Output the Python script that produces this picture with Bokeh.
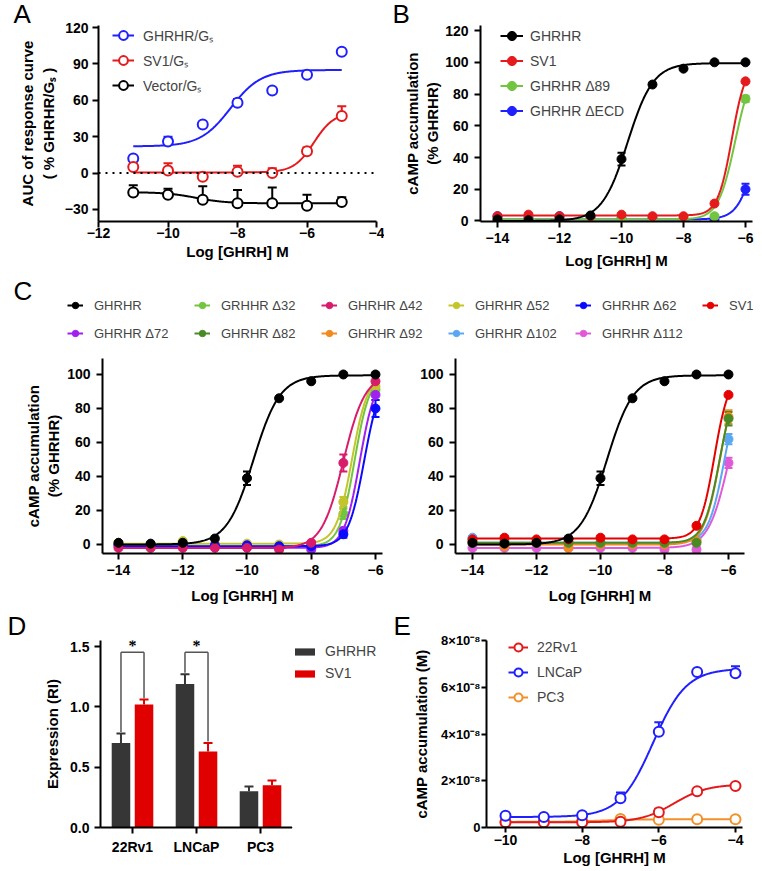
import numpy as np
from bokeh.plotting import figure
from bokeh.models import (ColumnDataSource, Range1d, FixedTicker, Legend, LegendItem,
                          Label, LabelSet, Span, Whisker, TeeHead, FactorRange, Title)
from bokeh.layouts import row, column
from bokeh.transform import dodge
from bokeh.embed import file_html
from bokeh.resources import INLINE

FONT = "Liberation Sans"

# ---------------- Panel A ----------------
a_x = [-11, -10, -9, -8, -7, -6, -5]
a_ghrhr = [12, 26, 40, 58, 68, 81, 100]
a_ghrhr_err = [0, 4, 0, 3, 0, 0, 0]
a_sv1 = [5, 2, -3, 1, 0, 18, 47]
a_sv1_err = [5, 6, 3, 5, 4, 3, 8]
a_vector = [-16, -18, -22, -25, -25, -27, -24]
a_vector_err = [6, 5, 11, 11, 13, 9, 4]
# 4PL fit parameters: bottom, top, logEC50, hill
a_ghrhr_fit = (22, 85, -8.2, 1.0)
a_sv1_fit = (0.5, 50, -5.8, 1.5)
a_vector_fit = (-15.8, -25, -9.2, 1.0)
a_xticks = [-12, -10, -8, -6, -4]
a_yticks = [-30, 0, 30, 60, 90, 120]

# ---------------- Panel B / C ----------------
c_x = [-14, -13, -12, -11, -10, -9, -8, -7, -6]
ghrhr = [1, 0.5, 1, 3.5, 39, 86, 96, 100, 100]
ghrhr_err = [0, 0, 0, 0, 4, 0, 0, 0, 0]
ghrhr_fit = (0, 99.5, -9.8, 1.05)
sv1 = [3, 4, 3, 3, 4, 3, 3, 11, 88]
sv1_err = [0, 0, 0, 0, 0, 0, 0, 0, 0]
sv1_fit = (3.5, 100, -6.44, 1.92)
d89 = [1, 1, 1, 1, 1, 0.5, 1, 3, 77]
d89_err = [0, 0, 0, 0, 0, 0, 0, 1, 2]
d89_fit = (1, 100, -6.33, 1.58)
decd = [3, 2, 3, 2, 1.5, 1.5, 1, 1, 20]
decd_err = [0, 0, 0, 0, 0, 0, 0, 0, 3.5]
decd_fit = (1, 100, -5.59, 1.5)

d32 = [0, -2, -1, -1, -0.5, -2, -2, 18, 91]
d32_err = [0, 0, 0, 0, 0, 0, 0, 3, 2]
d32_fit = (-1, 100, -6.65, 1.84)
d42 = [-2, -2, -2, -2, -2, -3, 1, 48, 96]
d42_err = [0, 0, 0, 0, 0, 0, 1, 5, 3]
d42_fit = (-2, 100, -7.0, 1.29)
d52 = [1, 0, 2, 0.5, 0.5, 0, 0, 25, 93]
d52_err = [0, 0, 0, 0, 0, 0, 0, 3, 2]
d52_fit = (0.5, 100, -6.73, 1.77)
d62 = [0, 0, 0, -0.5, -0.5, -1, -1, 6, 80]
d62_err = [0, 0, 0, 0, 0, 0, 0, 2, 5]
d62_fit = (-1, 100, -6.35, 1.73)
d72 = [-1, -1, -1, -1, -1, -2, -3, 8, 88]
d72_err = [0, 0, 0, 0, 0, 0, 0, 2, 3]
d72_fit = (-2, 100, -6.49, 1.79)
d82 = [1, 1, 1, 1, 1, 1, 1, 1, 74]
d82_err = [0, 0, 0, 0, 0, 0, 0, 1, 4]
d82_fit = (1, 100, -6.27, 1.74)
d92 = [2, -1, 1, -2, 0, 0, 0, 2, 75]
d92_err = [0, 0, 0, 0, 0, 0, 0, 1, 4]
d92_fit = (0, 100, -6.27, 1.76)
d102 = [4, 2, 1, 1, 1, 1, 1, 3, 62]
d102_err = [0, 0, 0, 0, 0, 0, 0, 1, 3]
d102_fit = (1, 100, -6.12, 1.71)
d112 = [-2, -2, -2, -2, -2, -2, -3, -3, 48]
d112_err = [0, 0, 0, 0, 0, 0, 0, 1.5, 3]
d112_fit = (-2, 100, -5.99, 1.37)
bc_xticks = [-14, -12, -10, -8, -6]
b_yticks = [0, 20, 40, 60, 80, 100, 120]
c_yticks = [0, 20, 40, 60, 80, 100]

# ---------------- Panel D ----------------
d_cats = ["22Rv1", "LNCaP", "PC3"]
d_ghrhr = [0.70, 1.19, 0.30]
d_ghrhr_err = [0.08, 0.08, 0.04]
d_sv1 = [1.02, 0.63, 0.35]
d_sv1_err = [0.04, 0.07, 0.04]
d_sig_cats = ["22Rv1", "LNCaP"]
d_sig_text = ["*", "*"]
d_bracket_top = 1.452
d_yticks = [0, 0.5, 1.0, 1.5]

# ---------------- Panel E ----------------
e_x = [-10, -9, -8, -7, -6, -5, -4]
e_22rv1 = [2.2e-9, 2.2e-9, 2.2e-9, 2.5e-9, 6.5e-9, 1.55e-8, 1.78e-8]
e_22rv1_err = [0, 0, 0, 0, 1.5e-9, 0, 0]
e_22rv1_fit = (2.2e-9, 1.85e-8, -5.6, 1.0)
e_lncap = [5.0e-9, 4.5e-9, 5.2e-9, 1.25e-8, 4.1e-8, 6.65e-8, 6.6e-8]
e_lncap_err = [0, 0, 0, 2.5e-9, 4e-9, 0, 3e-9]
e_lncap_fit = (4.5e-9, 6.8e-8, -6.15, 1.0)
e_pc3 = [2.4e-9, 2.6e-9, 2.8e-9, 3.6e-9, 3.3e-9, 3.5e-9, 3.5e-9]
e_pc3_err = [0, 0, 0, 0, 0, 0, 0]
e_pc3_fit = (2.4e-9, 3.5e-9, -7.5, 1.0)
e_xticks = [-10, -8, -6, -4]
e_yticks = [0, 2e-8, 4e-8, 6e-8, 8e-8]
e_ylabels = {0: "0", 2e-8: "2×10⁻⁸", 4e-8: "4×10⁻⁸", 6e-8: "6×10⁻⁸", 8e-8: "8×10⁻⁸"}

# colours
BLACK = "#000000"
BLUE = "#1f1fff"
RED = "#e41a1c"
GREEN = "#72c53f"
ORANGE = "#f39028"
D_GRAY = "#363636"
D_RED = "#e00000"
BRACKET = "#555555"
C_COLORS = {
    "GHRHR": "#000000", "d32": "#72c53f", "d42": "#d81b6a", "d52": "#c4c42c",
    "d62": "#0a0aff", "SV1": "#e60000", "d72": "#a020f0", "d82": "#4a8a24",
    "d92": "#f28a1e", "d102": "#5aa8f2", "d112": "#e05ad8",
}


def sigmoid(params, x0, x1, n=300):
    b, t, L, h = params
    xs = np.linspace(x0, x1, n)
    return xs, b + (t - b) / (1 + 10 ** ((L - xs) * h))


def make_fig(w, h, bl, bt, br, bb, xr, yr, axes=True):
    kw = {}
    if not axes:
        kw = dict(x_axis_location=None, y_axis_location=None)
    p = figure(width=w, height=h, x_range=xr, y_range=yr, toolbar_location=None,
               output_backend="svg", min_border_left=bl, min_border_top=bt,
               min_border_right=br, min_border_bottom=bb, **kw)
    p.outline_line_color = None
    p.grid.visible = False
    p.background_fill_color = "white"
    p.border_fill_color = "white"
    return p


def style_axes(p, xlabel, ylabel, xticks, yticks, x_std=(5, 6), y_std=(5, 6),
               tick_out=6):
    for ax in p.axis:
        ax.axis_line_width = 2
        ax.axis_line_color = "black"
        ax.major_tick_line_width = 2
        ax.major_tick_line_color = "black"
        ax.major_tick_out = tick_out
        ax.major_tick_in = 0
        ax.minor_tick_line_color = None
        ax.major_label_text_font = FONT
        ax.major_label_text_font_style = "bold"
        ax.major_label_text_font_size = "14px"
        ax.major_label_text_color = "black"
        ax.axis_label_text_font = FONT
        ax.axis_label_text_font_style = "bold"
        ax.axis_label_text_font_size = "15px"
        ax.axis_label_text_color = "black"
    p.xaxis.major_label_standoff = x_std[0]
    p.xaxis.axis_label_standoff = x_std[1]
    p.yaxis.major_label_standoff = y_std[0]
    p.yaxis.axis_label_standoff = y_std[1]
    p.xaxis.axis_label = xlabel
    p.yaxis.axis_label = ylabel
    if xticks is not None:
        p.xaxis.ticker = FixedTicker(ticks=xticks)
    if yticks is not None:
        p.yaxis.ticker = FixedTicker(ticks=yticks)


def panel_title(p, text, offset, standoff=0):
    p.title = Title(text=text, align="left", offset=offset, standoff=standoff,
                    text_font=FONT, text_font_size="26px", text_font_style="normal",
                    text_color="black")


def letter(p, text, x, y):
    p.add_layout(Label(x=x, y=y, x_units="screen", y_units="screen", text=text,
                       text_font=FONT, text_font_size="26px", text_baseline="alphabetic",
                       text_align="left", text_color="black"))


def add_err(p, x, y, err, color, upper_only, cap):
    x = np.asarray(x, float)
    y = np.asarray(y, float)
    e = np.asarray(err, float)
    m = e > 0
    if not m.any():
        return
    src = ColumnDataSource(dict(base=x[m], upper=y[m] + e[m],
                                lower=(y[m] if upper_only else y[m] - e[m])))
    p.add_layout(Whisker(source=src, base="base", upper="upper", lower="lower",
                         line_color=color, line_width=2,
                         upper_head=TeeHead(size=cap, line_color=color, line_width=2),
                         lower_head=None if upper_only else
                         TeeHead(size=cap, line_color=color, line_width=2)))


def add_series(p, x, y, err, fit, x0, x1, color, open_marker, upper_only, size, cap):
    xs, ys = sigmoid(fit, x0, x1)
    rl = p.line(xs, ys, line_color=color, line_width=2)
    add_err(p, x, y, err, color, upper_only, cap)
    if open_marker:
        rs = p.scatter(x, y, marker="circle", size=size, line_color=color, line_width=2,
                       fill_color="white")
    else:
        rs = p.scatter(x, y, marker="circle", size=size, line_color=color, fill_color=color)
    return rl, rs


def make_legend(items, loc, gw, gh, standoff, spacing, font_size="14px",
                orientation="vertical", label_width=20, label_height=None):
    return Legend(items=items, location=loc, orientation=orientation, glyph_width=gw,
                  glyph_height=gh, label_standoff=standoff, spacing=spacing, padding=0,
                  margin=0, border_line_color=None, background_fill_alpha=0,
                  label_text_font=FONT, label_text_font_size=font_size,
                  label_width=label_width, label_height=label_height or gh)


# ================= Panel A =================
pA = make_fig(384, 273, 98, 7, 8, 52, Range1d(-12, -4), Range1d(-40, 121.7))
panel_title(pA, "A", -85, standoff=-7)
style_axes(pA, "Log [GHRH] M", "AUC of response curve\n( % GHRHR/Gₛ )", a_xticks, a_yticks,
           x_std=(0, 2), y_std=(4, 5))
pA.add_layout(Span(location=0, dimension="width", line_color="black", line_width=2,
                   line_dash="2 5"))
ra = []
for y, e, fit, col in [(a_ghrhr, a_ghrhr_err, a_ghrhr_fit, BLUE),
                       (a_sv1, a_sv1_err, a_sv1_fit, RED),
                       (a_vector, a_vector_err, a_vector_fit, BLACK)]:
    ra.append(add_series(pA, a_x, y, e, fit, a_x[0], a_x[-1], col, True, True, 10, 9))
pA.add_layout(make_legend([LegendItem(label="GHRHR/Gₛ", renderers=list(ra[0])),
                           LegendItem(label="SV1/Gₛ", renderers=list(ra[1])),
                           LegendItem(label="Vector/Gₛ", renderers=list(ra[2]))],
                          (14, 124), 22, 24, 9, 1))

# ================= Panel B =================
pB = make_fig(376, 273, 96, 7, 8, 52, Range1d(-14.548, -5.774), Range1d(-0.32, 123.2))
panel_title(pB, "B", -88, standoff=-7)
style_axes(pB, "Log [GHRH] M", "cAMP accumulation\n(% GHRHR)", bc_xticks, b_yticks,
           x_std=(5, 6), y_std=(6, 1))
b_series = [("GHRHR ΔECD", decd, decd_err, decd_fit, BLUE),
            ("GHRHR Δ89", d89, d89_err, d89_fit, GREEN),
            ("SV1", sv1, sv1_err, sv1_fit, RED),
            ("GHRHR", ghrhr, ghrhr_err, ghrhr_fit, BLACK)]
rb = {}
for name, y, e, fit, col in b_series:
    rb[name] = add_series(pB, c_x, y, e, fit, c_x[0], c_x[-1], col, False, False, 9, 8)
pB.add_layout(make_legend([LegendItem(label=n, renderers=list(rb[n]))
                           for n in ["GHRHR", "SV1", "GHRHR Δ89", "GHRHR ΔECD"]],
                          (20, 99), 23, 23, 7, 2))

# ================= Panel C =================
c_series = {
    "GHRHR": ("GHRHR", ghrhr, ghrhr_err, ghrhr_fit),
    "d32": ("GRHHR Δ32", d32, d32_err, d32_fit),
    "d42": ("GHRHR Δ42", d42, d42_err, d42_fit),
    "d52": ("GHRHR Δ52", d52, d52_err, d52_fit),
    "d62": ("GHRHR Δ62", d62, d62_err, d62_fit),
    "SV1": ("SV1", sv1, sv1_err, sv1_fit),
    "d72": ("GHRHR Δ72", d72, d72_err, d72_fit),
    "d82": ("GHRHR Δ82", d82, d82_err, d82_fit),
    "d92": ("GHRHR Δ92", d92, d92_err, d92_fit),
    "d102": ("GHRHR Δ102", d102, d102_err, d102_fit),
    "d112": ("GHRHR Δ112", d112, d112_err, d112_fit),
}
c_left = ["d32", "d52", "d72", "d62", "d42", "GHRHR"]
c_right = ["d112", "d102", "d92", "d82", "SV1", "GHRHR"]
c_leg_row1 = ["GHRHR", "d32", "d42", "d52", "d62", "SV1"]
c_leg_row2 = ["d72", "d82", "d92", "d102", "d112"]

# legend strip for C (dummy renderers lie outside the strip's visible range)
s_c = make_fig(760, 72, 0, 0, 0, 0, Range1d(0, 1), Range1d(0, 1), axes=False)
leg_r = {}
for k, (lab, y, e, fit) in c_series.items():
    r1 = s_c.line(c_x, y, line_color=C_COLORS[k], line_width=2)
    r2 = s_c.scatter(c_x, y, marker="circle", size=6, line_color=C_COLORS[k],
                     fill_color=C_COLORS[k])
    leg_r[k] = LegendItem(label=lab, renderers=[r1, r2])
s_c.add_layout(make_legend([leg_r[k] for k in c_leg_row1], (67, 32), 16, 16, 11, 5,
                           font_size="13px", orientation="horizontal", label_width=95))
s_c.add_layout(make_legend([leg_r[k] for k in c_leg_row2], (67, 4), 16, 16, 11, 5,
                           font_size="13px", orientation="horizontal", label_width=95))
letter(s_c, "C", 13, 55)

pC1 = make_fig(385, 263, 102, 13, 3, 55, Range1d(-14.498, -5.782), Range1d(-5.3, 109.4))
style_axes(pC1, "Log [GHRH] M", "cAMP accumulation\n(% GHRHR)", bc_xticks, c_yticks,
           x_std=(5, 9), y_std=(6, 2))
for k in c_left:
    _, y, e, fit = c_series[k]
    add_series(pC1, c_x, y, e, fit, c_x[0], c_x[-1], C_COLORS[k], False, False, 9, 8)

pC2 = make_fig(375, 263, 70, 13, 16, 55, Range1d(-14.531, -5.5), Range1d(-5.3, 109.4))
style_axes(pC2, "Log [GHRH] M", None, bc_xticks, c_yticks, x_std=(5, 9), y_std=(6, 6))
for k in c_right:
    _, y, e, fit = c_series[k]
    add_series(pC2, c_x, y, e, fit, c_x[0], c_x[-1], C_COLORS[k], False, False, 9, 8)

# ================= Panel D =================
pD = make_fig(292, 261, 100, 7, 0, 42, FactorRange(factors=d_cats), Range1d(0, 1.55))
panel_title(pD, "D", -93)
style_axes(pD, None, "Expression (RI)", None, d_yticks, x_std=(5, 5), y_std=(5, 6))
pD.yaxis.major_label_overrides = {0: "0.0", 0.5: "0.5", 1.0: "1.0", 1.5: "1.5"}
dsrc = ColumnDataSource(dict(cat=d_cats, ghrhr=d_ghrhr, sv1=d_sv1,
                             ghrhr_up=list(np.add(d_ghrhr, d_ghrhr_err)),
                             sv1_up=list(np.add(d_sv1, d_sv1_err))))
OFF = 0.18
rg = pD.vbar(x=dodge("cat", -OFF, range=pD.x_range), top="ghrhr", width=0.29,
             fill_color=D_GRAY, line_color=None, source=dsrc)
rs = pD.vbar(x=dodge("cat", OFF, range=pD.x_range), top="sv1", width=0.29,
             fill_color=D_RED, line_color=None, source=dsrc)
for off, lo, up, col in [(-OFF, "ghrhr", "ghrhr_up", D_GRAY), (OFF, "sv1", "sv1_up", D_RED)]:
    pD.add_layout(Whisker(source=dsrc, base=dodge("cat", off, range=pD.x_range), upper=up,
                          lower=lo, line_color=col, line_width=2, level="glyph",
                          upper_head=TeeHead(size=9, line_color=col, line_width=2),
                          lower_head=None))
gap = 0.012
sig_idx = [d_cats.index(c) for c in d_sig_cats]
bsrc = ColumnDataSource(dict(
    cat=d_sig_cats,
    left=[d_ghrhr[i] + d_ghrhr_err[i] + gap for i in sig_idx],
    right=[d_sv1[i] + d_sv1_err[i] + gap for i in sig_idx],
    top=[d_bracket_top] * len(sig_idx),
    text=d_sig_text))
for xa, ya, xb, yb in [(-OFF, "left", -OFF, "top"), (OFF, "right", OFF, "top"),
                       (-OFF, "top", OFF, "top")]:
    pD.segment(x0=dodge("cat", xa, range=pD.x_range), y0=ya,
               x1=dodge("cat", xb, range=pD.x_range), y1=yb, source=bsrc,
               line_color=BRACKET, line_width=1.5)
pD.add_layout(LabelSet(x=dodge("cat", 0, range=pD.x_range), y="top", text="text", source=bsrc,
                       y_offset=1, text_align="center", text_baseline="alphabetic",
                       text_font=FONT, text_font_style="bold", text_font_size="16px",
                       text_color="black"))

# legend strip for D (dummy bars lie far outside the strip's visible ranges)
pDleg = make_fig(88, 261, 0, 7, 0, 42, Range1d(100, 101), Range1d(100, 101), axes=False)
lg_g = pDleg.vbar(x=d_ghrhr, top=d_ghrhr, width=0.1, fill_color=D_GRAY, line_color=None)
lg_s = pDleg.vbar(x=d_sv1, top=d_sv1, width=0.1, fill_color=D_RED, line_color=None)
pDleg.add_layout(make_legend([LegendItem(label="GHRHR", renderers=[lg_g]),
                              LegendItem(label="SV1", renderers=[lg_s])],
                             (0, 146), 25, 9, 8, 6, label_height=16))

# ================= Panel E =================
pE = make_fig(380, 261, 106, 7, 18, 42, Range1d(-10.496, -3.817), Range1d(0, 8e-8))
panel_title(pE, "E", -93)
style_axes(pE, "Log [GHRH] M", "cAMP accumulation (M)", e_xticks, e_yticks,
           x_std=(2, 1), y_std=(1, 8), tick_out=5)
pE.yaxis.major_label_overrides = e_ylabels
pE.yaxis.major_label_text_font_size = "13px"
re = {}
for name, y, e, fit, col in [("PC3", e_pc3, e_pc3_err, e_pc3_fit, ORANGE),
                             ("22Rv1", e_22rv1, e_22rv1_err, e_22rv1_fit, RED),
                             ("LNCaP", e_lncap, e_lncap_err, e_lncap_fit, BLUE)]:
    re[name] = add_series(pE, e_x, y, e, fit, e_x[0], e_x[-1], col, True, True, 10, 9)
pE.add_layout(make_legend([LegendItem(label=n, renderers=list(re[n]))
                           for n in ["22Rv1", "LNCaP", "PC3"]],
                          (22, 118), 20, 24, 9, 1))

layout = column(row(pA, pB), s_c, row(pC1, pC2), row(pD, pDleg, pE))
open("out.html", "w").write(file_html(layout, INLINE, title="GHRHR figure"))
